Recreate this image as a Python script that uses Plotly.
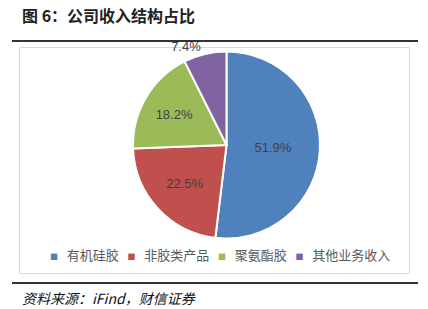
import plotly.graph_objects as go

categories = ["有机硅胶", "非胶类产品", "聚氨酯胶", "其他业务收入"]
values = [51.9, 22.5, 18.2, 7.4]
colors = ["#4F81BD", "#C0504D", "#9BBB59", "#8064A2"]
text_positions = ["inside", "inside", "inside", "outside"]

W, H = 428, 309
def px(x): return x / W
def py(y): return 1 - y / H

cx, cy, r = 226.5, 145, 93.5

fig = go.Figure(go.Pie(
    labels=categories,
    values=values,
    sort=False,
    direction="clockwise",
    rotation=0,
    marker=dict(colors=colors, line=dict(color="white", width=2)),
    texttemplate="%{value:.1f}%",
    textposition=text_positions,
    textfont=dict(family="Liberation Sans, Arial", size=13, color="#404040"),
    insidetextorientation="horizontal",
    domain=dict(x=[px(cx - r), px(cx + r)], y=[py(cy + r), py(cy - r)]),
    hoverinfo="label+value",
    showlegend=False,
))

shapes = [
    dict(type="rect", xref="paper", yref="paper", x0=px(19.5), x1=px(409.5), y0=py(273.5), y1=py(47.5),
         line=dict(color="#D9D9D9", width=1), fillcolor="rgba(0,0,0,0)", layer="below"),
    dict(type="line", xref="paper", yref="paper", x0=px(12), x1=px(418), y0=py(41), y1=py(41),
         line=dict(color="#333333", width=2)),
    dict(type="line", xref="paper", yref="paper", x0=px(12), x1=px(418), y0=py(283), y1=py(283),
         line=dict(color="#333333", width=2)),
]

# legend built as one line of text from the category list
sep = "\u00a0" * 3
legend_parts = [
    f"<span style='color:{c};font-size:8px'>■</span>\u00a0\u00a0\u00a0{name}"
    for name, c in zip(categories, colors)
]
legend_text = sep.join(legend_parts)

annotations = [
    dict(text="<b>图 6：公司收入结构占比</b>", xref="paper", yref="paper", x=px(20), y=py(15),
         xanchor="left", yanchor="middle", showarrow=False,
         font=dict(family="Noto Sans CJK SC", size=16, color="#222222")),
    dict(text="<i>资料来源：iFind，财信证券</i>", xref="paper", yref="paper", x=px(20), y=py(298),
         xanchor="left", yanchor="middle", showarrow=False,
         font=dict(family="Noto Sans CJK SC", size=14, color="#111111")),
    dict(text=legend_text, xref="paper", yref="paper", x=px(219.5), y=py(254),
         xanchor="center", yanchor="middle", showarrow=False,
         font=dict(family="Noto Sans CJK SC", size=13, color="#595959")),
]

fig.update_layout(
    width=W, height=H,
    margin=dict(l=0, r=0, t=0, b=0),
    paper_bgcolor="white", plot_bgcolor="white",
    shapes=shapes, annotations=annotations,
    showlegend=False,
)

fig.write_html("out.html")
